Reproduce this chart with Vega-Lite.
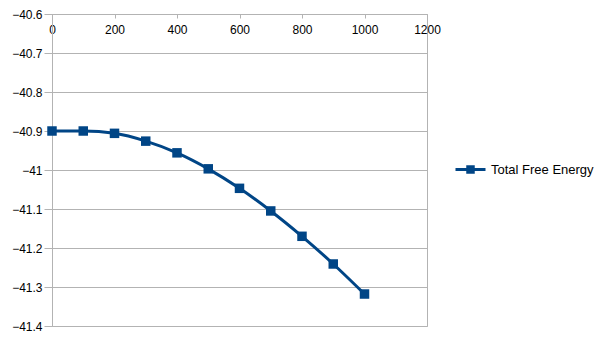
{
  "$schema": "https://vega.github.io/schema/vega-lite/v6.json",
  "width": 375,
  "height": 312,
  "autosize": {"type": "none"},
  "padding": {"left": 52, "top": 14, "right": 178, "bottom": 14},
  "background": "white",
  "config": {
    "font": "Liberation Sans",
    "view": {"stroke": "#b3b3b3", "strokeWidth": 1},
    "axis": {
      "labelFont": "Liberation Sans",
      "labelFontSize": 12,
      "labelColor": "#000000",
      "domainColor": "#b3b3b3",
      "tickColor": "#b3b3b3",
      "gridColor": "#b3b3b3",
      "title": null
    }
  },
  "data": {
    "values": [
      {"x": 0, "y": -40.900, "series": "Total Free Energy"},
      {"x": 100, "y": -40.900, "series": "Total Free Energy"},
      {"x": 200, "y": -40.906, "series": "Total Free Energy"},
      {"x": 300, "y": -40.926, "series": "Total Free Energy"},
      {"x": 400, "y": -40.956, "series": "Total Free Energy"},
      {"x": 500, "y": -40.997, "series": "Total Free Energy"},
      {"x": 600, "y": -41.047, "series": "Total Free Energy"},
      {"x": 700, "y": -41.105, "series": "Total Free Energy"},
      {"x": 800, "y": -41.170, "series": "Total Free Energy"},
      {"x": 900, "y": -41.241, "series": "Total Free Energy"},
      {"x": 1000, "y": -41.318, "series": "Total Free Energy"}
    ]
  },
  "encoding": {
    "x": {
      "field": "x",
      "type": "quantitative",
      "scale": {"domain": [0, 1200], "nice": false, "zero": false},
      "axis": {
        "orient": "bottom",
        "offset": -312,
        "values": [0, 200, 400, 600, 800, 1000, 1200],
        "format": "d",
        "grid": false,
        "tickSize": 4,
        "labelPadding": 6,
        "labelFlush": false,
        "labelOverlap": false,
        "domain": false
      }
    },
    "y": {
      "field": "y",
      "type": "quantitative",
      "scale": {"domain": [-41.4, -40.6], "nice": false, "zero": false},
      "axis": {
        "values": [-41.4, -41.3, -41.2, -41.1, -41.0, -40.9, -40.8, -40.7, -40.6],
        "format": ".1~f",
        "grid": true,
        "tickSize": 8,
        "labelPadding": 2,
        "labelFlush": false,
        "labelOverlap": false,
        "domain": true
      }
    },
    "color": {
      "field": "series",
      "type": "nominal",
      "scale": {"range": ["#004586"]},
      "legend": {
        "title": null,
        "orient": "none",
        "legendX": 412,
        "legendY": 149,
        "symbolType": "M-3,0H3M-0.55,-0.55H0.55V0.55H-0.55Z",
        "symbolSize": 100,
        "symbolStrokeWidth": 3,
        "symbolFillColor": "#004586",
        "symbolStrokeColor": "#004586",
        "labelFont": "Liberation Sans",
        "labelFontSize": 13,
        "labelColor": "#000000",
        "labelOffset": 14
      }
    }
  },
  "layer": [
    {
      "mark": {"type": "line", "interpolate": "monotone", "strokeWidth": 3}
    },
    {
      "mark": {"type": "point", "shape": "square", "filled": true, "size": 90, "opacity": 1}
    }
  ]
}
